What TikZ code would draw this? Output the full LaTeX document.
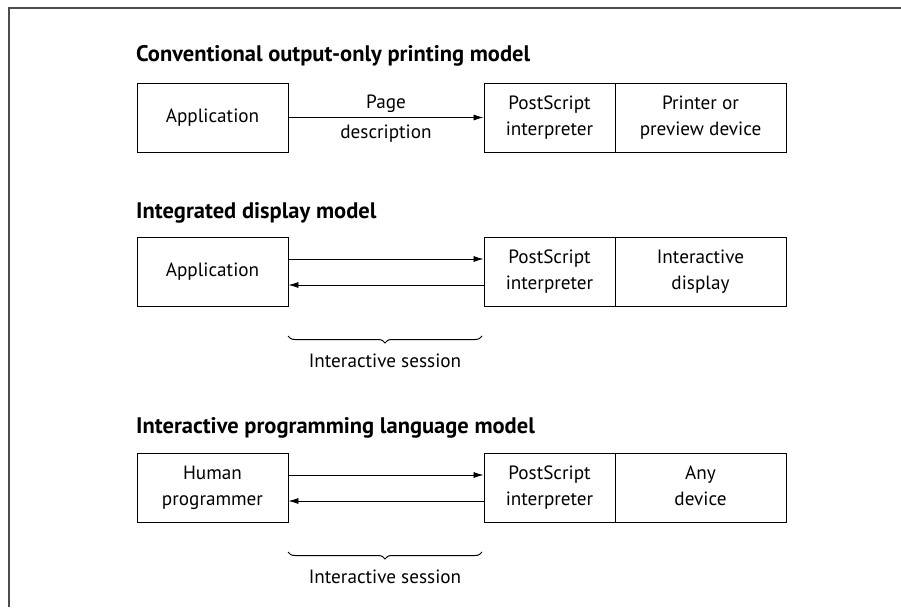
\documentclass[tikz,border=0pt]{standalone}
\usepackage{fontspec}
\setmainfont{PT Sans}
\usetikzlibrary{arrows.meta,decorations.pathreplacing}
\begin{document}
\begin{tikzpicture}[x=1pt,y=-1pt,
  box/.style={draw, line width=0.9pt, inner sep=0pt, align=center,
    font=\fontsize{19.2}{26}\selectfont, minimum height=69pt},
  appbox/.style={box, minimum width=151pt},
  psbox/.style={box, minimum width=131pt},
  devbox/.style={box, minimum width=171pt},
  title/.style={anchor=base west, inner sep=0pt, font=\fontsize{22.5}{26}\selectfont\bfseries},
  lbl/.style={inner sep=0pt, font=\fontsize{19.2}{26}\selectfont},
  conn/.style={line width=0.8pt, -{Latex[length=10pt,width=6pt]}},
  sess/.style={line width=1pt, decorate, decoration={brace, amplitude=7pt, mirror}},
  frame/.style={line width=1.5pt, draw=black!70}
]
\useasboundingbox (0,0) rectangle (901,607);
\draw[frame] (9,607) -- (9,8) -- (901,8);

% Row 1
\node[title] (t1) at (136,62) {Conventional output-only printing model};
\node[appbox] (app1) at (212.5,117.5) {Application};
\node[psbox] (ps1) at (549.5,117.5) {\strut PostScript\\\strut interpreter};
\node[devbox] (dev1) at (700.5,117.5) {\strut Printer or\\\strut preview device};
\draw[conn] (app1.east) -- (ps1.west);
\node[lbl, anchor=base] (pg) at (386,109) {Page};
\node[lbl, anchor=base] (pd) at (386,139) {description};

% Row 2
\node[title] (t2) at (136,218) {Integrated display model};
\node[appbox] (app2) at (212.5,271.5) {Application};
\node[psbox] (ps2) at (549.5,271.5) {\strut PostScript\\\strut interpreter};
\node[devbox] (dev2) at (700.5,271.5) {\strut Interactive\\\strut display};
\draw[conn] ([yshift=12.5pt]app2.east) -- ([yshift=12.5pt]ps2.west);
\draw[conn] ([yshift=-13.5pt]ps2.west) -- ([yshift=-13.5pt]app2.east);
\coordinate (b2a) at (288,336);
\coordinate (b2b) at (482,336);
\draw[sess] (b2a) -- (b2b);
\node[lbl, anchor=base] (s2) at (385,367) {Interactive session};

% Row 3
\node[title] (t3) at (136,433) {Interactive programming language model};
\node[appbox] (app3) at (212.5,487.5) {\strut Human\\\strut programmer};
\node[psbox] (ps3) at (549.5,487.5) {\strut PostScript\\\strut interpreter};
\node[devbox] (dev3) at (700.5,487.5) {\strut Any\\\strut device};
\draw[conn] ([yshift=12.5pt]app3.east) -- ([yshift=12.5pt]ps3.west);
\draw[conn] ([yshift=-13.5pt]ps3.west) -- ([yshift=-13.5pt]app3.east);
\coordinate (b3a) at (288,552);
\coordinate (b3b) at (482,552);
\draw[sess] (b3a) -- (b3b);
\node[lbl, anchor=base] (s3) at (385,583) {Interactive session};
\end{tikzpicture}
\end{document}
